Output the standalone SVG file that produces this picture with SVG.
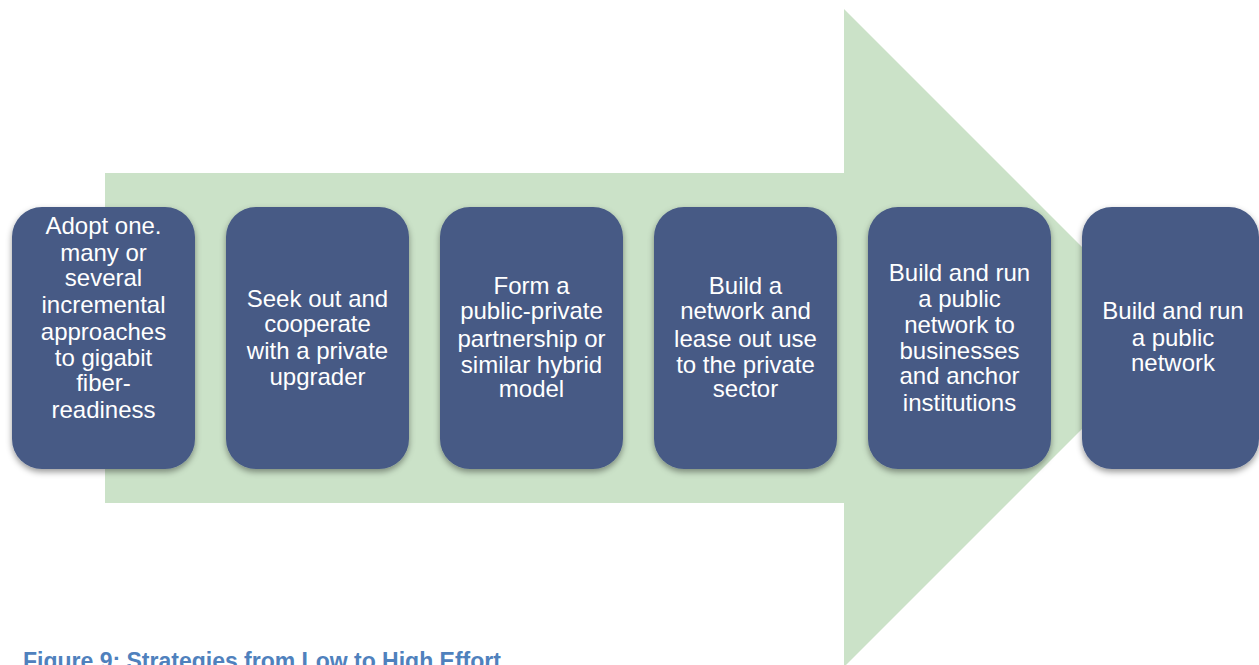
<svg xmlns="http://www.w3.org/2000/svg" width="1259" height="665" viewBox="0 0 1259 665">
<style>
.box{fill:#475a85;filter:url(#sh)}
.lbl{font-family:"Liberation Sans",Arial,sans-serif;font-size:24px;fill:#ffffff;text-anchor:middle}
.cap{font-family:"Liberation Sans",Arial,sans-serif;font-size:23px;font-weight:bold;fill:#4f81bd}
</style>
<defs>
<filter id="sh" x="-10%" y="-10%" width="120%" height="125%">
<feDropShadow dx="0" dy="3" stdDeviation="3" flood-color="#000" flood-opacity="0.4"/>
</filter>
</defs>
<rect width="1259" height="665" fill="#ffffff"/>
<g id="arrow">
<polygon points="105,173 844,173 844,9 1173,338 844,667 844,503 105,503" fill="#cbe2c8"/>
</g>
<g id="connectors"></g>
<g id="n1">
<rect class="box" x="12" y="207" width="183" height="262" rx="30"/>
<text class="lbl" x="103.5"><tspan x="103.5" y="234">Adopt one.</tspan><tspan x="103.5" y="261">many or</tspan><tspan x="103.5" y="286">several</tspan><tspan x="103.5" y="313">incremental</tspan><tspan x="103.5" y="340">approaches</tspan><tspan x="103.5" y="366">to gigabit</tspan><tspan x="103.5" y="391">fiber-</tspan><tspan x="103.5" y="418">readiness</tspan></text>
</g>
<g id="n2">
<rect class="box" x="226" y="207" width="183" height="262" rx="30"/>
<text class="lbl"><tspan x="317.5" y="307">Seek out and</tspan><tspan x="317.5" y="332">cooperate</tspan><tspan x="317.5" y="359">with a private</tspan><tspan x="317.5" y="385">upgrader</tspan></text>
</g>
<g id="n3">
<rect class="box" x="440" y="207" width="183" height="262" rx="30"/>
<text class="lbl"><tspan x="531.5" y="294">Form a</tspan><tspan x="531.5" y="319">public-private</tspan><tspan x="531.5" y="347">partnership or</tspan><tspan x="531.5" y="373">similar hybrid</tspan><tspan x="531.5" y="397">model</tspan></text>
</g>
<g id="n4">
<rect class="box" x="654" y="207" width="183" height="262" rx="30"/>
<text class="lbl"><tspan x="745.5" y="294">Build a</tspan><tspan x="745.5" y="319">network and</tspan><tspan x="745.5" y="347">lease out use</tspan><tspan x="745.5" y="373">to the private</tspan><tspan x="745.5" y="397">sector</tspan></text>
</g>
<g id="n5">
<rect class="box" x="868" y="207" width="183" height="262" rx="30"/>
<text class="lbl"><tspan x="959.5" y="281">Build and run</tspan><tspan x="959.5" y="307">a public</tspan><tspan x="959.5" y="333">network to</tspan><tspan x="959.5" y="359">businesses</tspan><tspan x="959.5" y="384">and anchor</tspan><tspan x="959.5" y="411">institutions</tspan></text>
</g>
<g id="n6">
<rect class="box" x="1082" y="207" width="177" height="262" rx="30"/>
<text class="lbl"><tspan x="1173" y="319">Build and run</tspan><tspan x="1173" y="346">a public</tspan><tspan x="1173" y="371">network</tspan></text>
</g>
<text class="cap" x="23" y="669">Figure 9: Strategies from Low to High Effort</text>
</svg>
